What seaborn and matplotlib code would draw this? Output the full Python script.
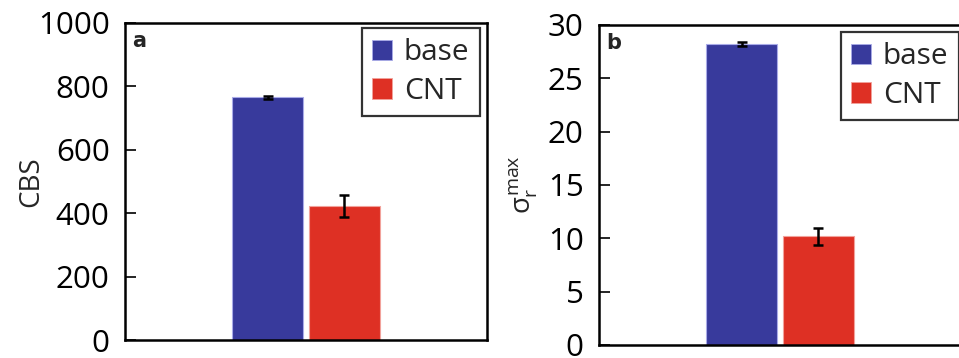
import matplotlib
matplotlib.use("Agg")
import matplotlib.pyplot as plt
import seaborn as sns
import pandas as pd
from matplotlib.patches import Patch

# Measured data
groups = ["base", "CNT"]
cbs = [766, 423]
cbs_err = [5, 35]
sigma = [28.2, 10.2]
sigma_err = [0.2, 0.8]

colors = {"base": "#383a9c", "CNT": "#de3024"}
edge_colors = {"base": "#a9abe8", "CNT": "#f2a29b"}

sns.set_theme(style="white")
plt.rcParams["font.family"] = ["Open Sans", "DejaVu Sans"]
plt.rcParams["mathtext.fontset"] = "custom"
plt.rcParams["mathtext.rm"] = "Open Sans"
plt.rcParams["mathtext.it"] = "Open Sans"

W, H = 959, 358
fig = plt.figure(figsize=(W / 100, H / 100), dpi=100)

def add_axes(left, top, width, height):
    return fig.add_axes([left / W, 1 - (top + height) / H, width / W, height / H])

ax_a = add_axes(125, 23, 362, 317)
ax_b = add_axes(599, 25, 362, 320)


def panel(ax, values, errors, ylim, yticks, ylabel, letter, leg_anchor, labelpad):
    df = pd.DataFrame({"x": [""] * len(groups), "group": groups, "value": values})
    sns.barplot(data=df, x="x", y="value", hue="group", palette=colors,
                hue_order=groups, width=0.4227, gap=0.078, errorbar=None,
                legend=False, ax=ax, saturation=1)
    for patch, g in zip(ax.patches, groups):
        patch.set_edgecolor(edge_colors[g])
        patch.set_linewidth(0.8)
    centers = [p.get_x() + p.get_width() / 2 for p in ax.patches[:len(groups)]]
    ax.errorbar(centers, values, yerr=errors, fmt="none", ecolor="black",
                elinewidth=1.8, capsize=3.8, capthick=1.8, zorder=5)
    ax.set_xlim(-0.5, 0.5)
    ax.set_ylim(*ylim)
    ax.set_yticks(yticks)
    ax.set_xticks([])
    ax.set_xlabel("")
    ax.set_ylabel(ylabel, fontsize=20, labelpad=labelpad)
    ax.tick_params(axis="y", direction="in", length=8, width=1.2,
                   labelsize=22.5, pad=11, colors="black", left=True)
    for s in ax.spines.values():
        s.set_color("black")
        s.set_linewidth(1.8)
        s.set_visible(True)
    ax.text(0.02, 0.975, letter, transform=ax.transAxes, fontsize=15,
            fontweight="bold", va="top", ha="left", family="DejaVu Sans")
    handles = [Patch(facecolor=colors[g], edgecolor=edge_colors[g], linewidth=0.6)
               for g in groups]
    leg = ax.legend(handles, groups, loc="upper right", bbox_to_anchor=leg_anchor,
                    borderaxespad=0, fontsize=21.5, frameon=True, fancybox=False,
                    handlelength=0.66, handleheight=0.66, handletextpad=0.4,
                    labelspacing=0.32, borderpad=0.35)
    leg.get_frame().set_edgecolor("black")
    leg.get_frame().set_linewidth(1.6)


panel(ax_a, cbs, cbs_err, (0, 1000), [0, 200, 400, 600, 800, 1000], "CBS", "a",
      ((480 - 125) / 362, 1 - (28 - 23) / 317), labelpad=-5)
panel(ax_b, sigma, sigma_err, (0, 30), [0, 5, 10, 15, 20, 25, 30],
      r"$\sigma_\mathregular{r}^\mathregular{max}$", "b",
      ((959 - 599) / 362, 1 - (32 - 25) / 320), labelpad=6)

fig.savefig("out.png", dpi=100)
